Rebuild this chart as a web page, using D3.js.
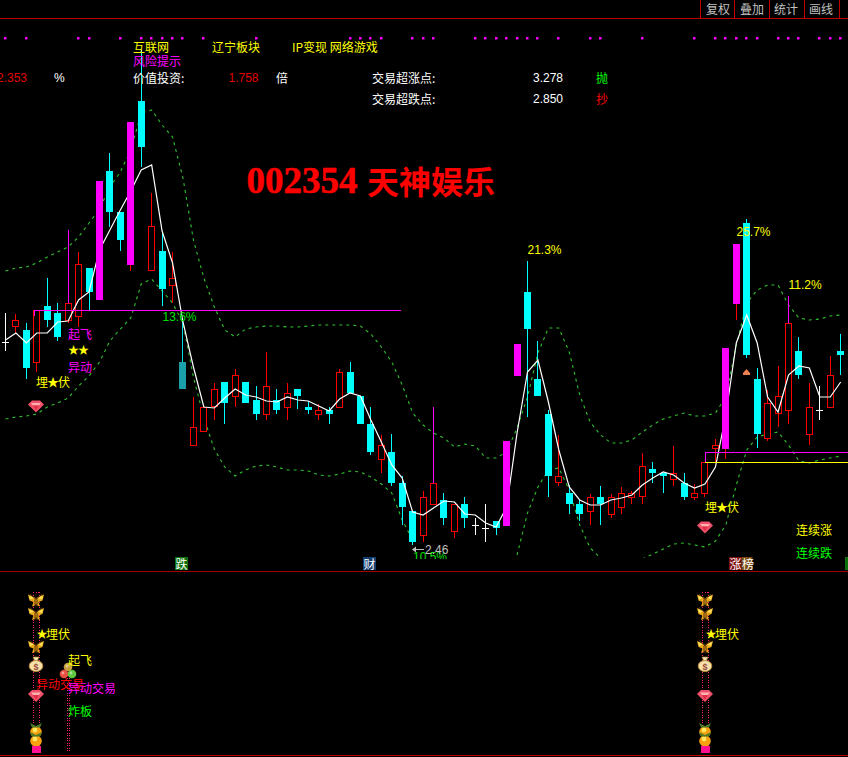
<!DOCTYPE html>
<html><head><meta charset="utf-8">
<script src="https://cdn.jsdelivr.net/npm/d3@7/dist/d3.min.js"></script>
<style>html,body{margin:0;padding:0;background:#000;overflow:hidden}svg{display:block}</style>
</head><body><div id="c"></div>
<script>
const opens=[2.866,2.896,2.890,2.824,2.938,2.924,2.908,2.916,3.014,2.950,3.208,3.126,3.020,3.348,3.008,3.048,2.978,2.826,2.658,2.686,2.736,2.786,2.756,2.786,2.750,2.720,2.750,2.734,2.772,2.736,2.720,2.730,2.734,2.806,2.758,2.702,2.630,2.646,2.584,2.528,2.478,2.540,2.550,2.486,2.542,2.500,2.494,2.508,2.498,2.798,2.966,2.792,2.722,2.584,2.564,2.542,2.526,2.556,2.520,2.534,2.554,2.556,2.612,2.604,2.590,2.584,2.554,2.562,2.652,2.652,2.942,3.104,2.792,2.672,2.722,2.728,2.848,2.680,2.730,2.734,2.848];
const closes=[2.866,2.910,2.814,2.930,2.910,2.876,2.944,3.022,2.966,3.188,3.126,3.070,3.306,3.256,3.098,2.972,2.994,2.772,2.696,2.736,2.772,2.744,2.800,2.744,2.722,2.778,2.730,2.764,2.758,2.730,2.730,2.722,2.806,2.764,2.702,2.646,2.660,2.584,2.536,2.466,2.556,2.584,2.514,2.542,2.514,2.500,2.494,2.494,2.668,2.862,2.892,2.758,2.598,2.598,2.542,2.522,2.556,2.542,2.556,2.564,2.564,2.618,2.604,2.598,2.604,2.556,2.564,2.626,2.660,2.854,3.062,2.840,2.682,2.744,2.758,2.904,2.800,2.736,2.730,2.800,2.840];
const highs=[2.924,2.922,2.904,2.930,2.994,2.944,3.090,3.046,3.014,3.188,3.244,3.126,3.306,3.450,3.164,3.084,3.046,2.910,2.756,2.736,2.784,2.786,2.812,2.786,2.778,2.846,2.772,2.784,2.772,2.748,2.742,2.736,2.812,2.826,2.758,2.736,2.680,2.682,2.598,2.528,2.568,2.736,2.564,2.542,2.556,2.514,2.542,2.508,2.668,2.862,3.028,2.868,2.730,2.680,2.580,2.550,2.562,2.578,2.562,2.576,2.568,2.644,2.626,2.604,2.658,2.604,2.582,2.626,2.672,2.854,3.062,3.112,2.814,2.770,2.818,2.958,2.876,2.784,2.778,2.838,2.882];
const lows=[2.848,2.884,2.792,2.806,2.896,2.868,2.904,2.896,2.930,2.950,3.096,3.048,3.008,3.216,3.008,2.938,2.944,2.772,2.658,2.686,2.710,2.702,2.736,2.744,2.710,2.710,2.722,2.710,2.732,2.722,2.710,2.702,2.734,2.764,2.702,2.640,2.604,2.578,2.500,2.460,2.466,2.540,2.500,2.474,2.494,2.480,2.466,2.480,2.498,2.798,2.716,2.758,2.556,2.578,2.522,2.508,2.500,2.500,2.514,2.522,2.542,2.542,2.584,2.564,2.578,2.550,2.550,2.556,2.626,2.632,2.910,2.834,2.654,2.668,2.696,2.702,2.792,2.660,2.710,2.734,2.800];
const maLine=[2.870,2.884,2.864,2.884,2.884,2.906,2.908,2.950,2.966,3.050,3.090,3.130,3.168,3.210,3.220,3.088,3.024,2.906,2.816,2.736,2.734,2.754,2.772,2.760,2.756,2.748,2.746,2.756,2.750,2.748,2.738,2.728,2.752,2.764,2.758,2.710,2.666,2.620,2.594,2.526,2.520,2.534,2.548,2.546,2.522,2.520,2.504,2.496,2.536,2.684,2.806,2.830,2.746,2.650,2.576,2.550,2.540,2.540,2.550,2.554,2.560,2.580,2.594,2.606,2.600,2.584,2.574,2.582,2.616,2.720,2.864,2.920,2.864,2.756,2.726,2.800,2.818,2.814,2.756,2.756,2.786];
const upperBand=[3.008,3.014,3.016,3.024,3.036,3.046,3.056,3.076,3.104,3.132,3.176,3.206,3.250,3.324,3.330,3.300,3.276,3.194,3.070,2.994,2.936,2.890,2.876,2.892,2.896,2.898,2.898,2.896,2.896,2.898,2.900,2.900,2.900,2.900,2.898,2.882,2.856,2.826,2.780,2.724,2.700,2.684,2.674,2.656,2.662,2.658,2.634,2.634,2.646,2.694,2.756,2.844,2.894,2.894,2.846,2.760,2.706,2.680,2.664,2.664,2.670,2.686,2.700,2.712,2.718,2.724,2.718,2.718,2.724,2.756,2.860,2.944,2.970,2.980,2.980,2.940,2.914,2.910,2.912,2.918,2.920];
const lowerBand=[2.712,2.716,2.718,2.722,2.736,2.744,2.754,2.778,2.798,2.826,2.868,2.892,2.914,2.982,2.992,2.968,2.944,2.904,2.796,2.714,2.652,2.616,2.598,2.610,2.618,2.620,2.616,2.610,2.610,2.608,2.600,2.598,2.602,2.608,2.606,2.596,2.582,2.564,2.510,2.470,null,null,null,null,null,null,null,null,null,2.440,2.524,2.576,2.610,2.614,2.570,2.500,2.454,2.434,null,null,null,2.432,2.442,2.452,2.462,2.464,2.460,2.456,2.468,2.500,2.580,2.650,2.676,2.682,2.686,2.660,2.628,2.624,2.630,2.634,2.638];
const limitBars=[9,12,48,49,69,70];
const tealBars=[17];
const magentaWick=[6,41,75];
const signalDots=[0,2,7,8,11,13,14,15,16,17,19,24,33,34,35,36,39,40,41,45,46,47,48,49,50,51,53,56,57,61,66,68,69,70,71,72,74,75,76,78,79,80];
const menuItems=["复权","叠加","统计","画线"];

const W=848,H=757;
const svg=d3.select("#c").append("svg").attr("width",W).attr("height",H);
svg.append("rect").attr("width",W).attr("height",H).attr("fill","#000");
svg.append("clipPath").attr("id","main").append("rect").attr("width",W).attr("height",558);
svg.append("clipPath").attr("id","pct").append("rect").attr("y",540).attr("width",W).attr("height",19);

const xs=d3.scalePoint().domain(d3.range(opens.length)).range([5.5,840.7]);
const X=i=>Math.floor(xs(i))+.5;
const y=d3.scaleLinear().domain([3.55,2.406]).range([0,572]);
const Y=v=>Math.round(y(v));

const CJK='"Noto Sans CJK SC",sans-serif', LAT='"Liberation Sans",sans-serif';
function T(x,yy,s,col,size=12,fam=CJK,extra){
  const dy=fam===CJK?-1:0;
  const t=svg.append("text").attr("x",x).attr("y",yy+dy).attr("fill",col).attr("font-size",size)
   .attr("font-family",fam).attr("dominant-baseline","central").text(s);
  if(extra)extra(t);return t;
}
const hl=(x1,x2,yy,c,g=svg)=>g.append("line").attr("x1",x1).attr("x2",x2).attr("y1",yy).attr("y2",yy).attr("stroke",c).attr("shape-rendering","crispEdges");
const vl=(xx,y1,y2,c,g=svg)=>g.append("line").attr("x1",xx).attr("x2",xx).attr("y1",y1).attr("y2",y2).attr("stroke",c).attr("shape-rendering","crispEdges");

// frame
hl(0,W,18.5,"#c00000");
hl(0,W,571.5,"#a00000");
hl(0,W,755.5,"#c00000");
[700.5,734.5,769.5,804.5,839.5].forEach(v=>vl(v,0,18,"#c00000"));
menuItems.forEach((m,i)=>T([706,740,774,809][i],9,m,"#c0c0c0"));

// signal dots
svg.append("g").selectAll("rect").data(signalDots).join("rect")
 .attr("x",d=>X(d)-1.5).attr("y",37).attr("width",2.5).attr("height",2.5).attr("fill","#ff00ff");

// bands
const main=svg.append("g").attr("clip-path","url(#main)");
const band=d3.line().defined(d=>d!=null).x((d,i)=>xs(i)).y(d=>y(d));
[upperBand,lowerBand].forEach(b=>main.append("path").datum(b).attr("d",band).attr("fill","none")
  .attr("stroke","#30c030").attr("stroke-width",1.1).attr("stroke-dasharray","3,4"));

// candles
function candle(g,i){
  const o=opens[i],c=closes[i],cx=X(i),top=Y(Math.max(o,c)),bot=Y(Math.min(o,c));
  const hy=Y(highs[i]),ly=Y(lows[i]);
  const lim=limitBars.includes(i),teal=tealBars.includes(i);
  if(o===c){
    vl(cx,hy,ly,"#fff",g);hl(cx-3.5,cx+3.5,top+.5,"#fff",g);return;
  }
  const up=c>o;
  const col=teal?"#19a0a8":up?"#ff0000":"#00ffff";
  vl(cx,hy,top,magentaWick.includes(i)?"#ff00ff":(teal?"#00e0e0":col),g);
  vl(cx,bot,ly,col,g);
  if(lim) g.append("rect").attr("x",cx-3.5).attr("y",top).attr("width",7).attr("height",bot-top).attr("fill","#ff00ff").attr("shape-rendering","crispEdges");
  else if(up) g.append("rect").attr("x",cx-3).attr("y",top+.5).attr("width",6).attr("height",bot-top-1).attr("fill","#000").attr("stroke","#ff0000").attr("shape-rendering","crispEdges");
  else g.append("rect").attr("x",cx-3.5).attr("y",top).attr("width",7).attr("height",bot-top).attr("fill",teal?"#19a0a8":"#00ffff").attr("shape-rendering","crispEdges");
}
const gBase=main.append("g");
d3.range(opens.length).filter(i=>!limitBars.includes(i)).forEach(i=>candle(gBase,i));
const ma=d3.line().x((d,i)=>xs(i)).y(d=>y(d));
main.append("path").datum(maLine).attr("d",ma).attr("fill","none").attr("stroke","#fff").attr("stroke-width",1.2);
const gLim=main.append("g");
limitBars.forEach(i=>candle(gLim,i));

// support lines
hl(34,401,310.5,"#ff00ff");
vl(34.5,310,316,"#ff00ff");
hl(705,W,452.5,"#ff00ff");
hl(705,W,462.5,"#ffff00");
vl(705.5,452,462,"#ff00ff");

// header text
T(133,47,"互联网","#ffff00");T(212,47,"辽宁板块","#ffff00");T(292,47,"IP变现 网络游戏","#ffff00");
T(133,61,"风险提示","#ff00ff");
T(-3,78,"2.353","#e00000",12,LAT);T(54,78,"%","#fff",12,LAT);
T(133,78,"价值投资:","#fff");T(228.5,78,"1.758","#e00000",12,LAT);T(276,78,"倍","#fff");
T(372,78,"交易超涨点:","#fff");T(533,78,"3.278","#fff",12,LAT);T(596,78,"抛","#00ff00");
T(372,99,"交易超跌点:","#fff");T(533,99,"2.850","#fff",12,LAT);T(596,99,"抄","#ff0000");
T(246.5,180,"002354","#ff0000",37,'"Liberation Serif",serif',t=>t.attr("font-weight",700).attr("stroke","#ff0000").attr("stroke-width",.5));
T(367,181,"天神娱乐","#ff0000",32,CJK,t=>t.attr("font-weight",700));

// percent labels
T(162.5,316.5,"13.6%","#00e000",12,LAT);
T(527.5,249.5,"21.3%","#ffff00",12,LAT);
T(736.5,231.5,"25.7%","#ffff00",12,LAT);
T(788.5,285,"11.2%","#ffff00",12,LAT);
svg.append("g").attr("clip-path","url(#pct)").append("text").attr("x",413).attr("y",557).attr("fill","#00e000")
 .attr("font-size",12).attr("font-family",LAT).text("10.5%").attr("dominant-baseline","central");
hl(413,424,549.5,"#c0c0c0");
svg.append("path").attr("d","M412,549.5l4,-3v6z").attr("fill","#c0c0c0");
T(425,550,"2.46","#c0c0c0",12,LAT);

// icons
function gem(cx,cy){
  const g=svg.append("g").attr("transform",`translate(${cx},${cy})`);
  g.append("path").attr("d","M-8,-2L-4,-6H4L8,-2L0,6Z").attr("fill","#f0506a");
  g.append("path").attr("d","M-5,-3.5H5L3,-1H-3Z").attr("fill","#ffb0b0");
  g.append("path").attr("d","M-3,-1H3L0,4Z").attr("fill","#e03048");
}
function fly(cx,cy){
  const g=svg.append("g").attr("transform",`translate(${cx},${cy})`);
  g.append("path").attr("d","M-8,-6L-1,-3L0,-1L1,-3L8,-6L6.5,0L2.5,1.5L4,6L1,5L0,3L-1,5L-4,6L-2.5,1.5L-6.5,0Z").attr("fill","#e8a818");
  g.append("path").attr("d","M-6,-6.5L0,-1L6,-6.5M-1,-1V6M1,-1V6").attr("fill","none").attr("stroke","#5a3008").attr("stroke-width",1);
  g.append("path").attr("d","M-7,-5L-2,-2.5L-6,-1ZM7,-5L2,-2.5L6,-1Z").attr("fill","#ffe060");
}
function bag(cx,cy){
  const g=svg.append("g").attr("transform",`translate(${cx},${cy})`);
  g.append("ellipse").attr("cy",2).attr("rx",6.8).attr("ry",5.5).attr("fill","#f7e2ae").attr("stroke","#b98a30");
  g.append("path").attr("d","M-3,-7H3L1.5,-3.5H-1.5Z").attr("fill","#f7e2ae").attr("stroke","#b98a30").attr("stroke-width",.6);
  g.append("text").attr("y",2.5).attr("text-anchor","middle").attr("dominant-baseline","central").attr("font-size",9).attr("font-weight",700)
   .attr("font-family",LAT).attr("fill","#9a4a3a").text("$");
}
function fruit(cx,cy){
  const g=svg.append("g").attr("transform",`translate(${cx},${cy})`);
  g.append("circle").attr("r",5.8).attr("fill","#f8a010");
  g.append("circle").attr("cx",-1).attr("cy",-2).attr("r",2.4).attr("fill","#ffe860");
  g.append("path").attr("d","M-6,-9L0,-6L6,-9L4,-4.5H-4Z").attr("fill","#4a7a28");
}
function ball(cx,cy,c){
  svg.append("circle").attr("cx",cx).attr("cy",cy).attr("r",4.3).attr("fill",c);
  svg.append("circle").attr("cx",cx-1).attr("cy",cy-1).attr("r",1.4).attr("fill","#fff").attr("opacity",.45);
}
function dotted(xx,y1,y2){vl(xx,y1,y2,"#ff2070").attr("stroke-dasharray","1,1.5");}

// signal annotations in main
T(68,334,"起飞","#ff00ff");
T(68,350,"★★","#ffff00",11,CJK,t=>t.style("letter-spacing","-1px"));
T(68,367,"异动","#ff00ff");
T(36,382,"埋★伏","#ffff00",12,CJK,t=>t.style("letter-spacing","-1px"));
gem(36,406.5);
T(705,507,"埋★伏","#ffff00",12,CJK,t=>t.style("letter-spacing","-1px"));
gem(705,527.5);
svg.append("path").attr("d","M746.5,369L750,373V375H743V373Z").attr("fill","#f08050");
T(796,530,"连续涨","#ffff00");
T(796,553,"连续跌","#00ff00");

// date tags
function tag(x,w,c,s){
  svg.append("rect").attr("x",x).attr("y",557).attr("width",w).attr("height",13).attr("fill",c);
  if(s)T(x+.5,564,s,"#fff");
}
tag(175,13,"#0a700a","跌");
tag(363,13,"#123e70","财");
tag(729,12.5,"#801010","涨");
tag(741.5,11,"#7a4a10","榜");
tag(845,3,"#0a700a");

// lower panel signal stacks
[36,705].forEach(cx=>{
  const l=cx-3,r=cx+3;
  dotted(Math.floor(l)+.5,592,746);dotted(Math.floor(r)+.5,592,746);
  hl(l,r,592.5,"#ff2070").attr("stroke-dasharray","1,1.5");
  fly(cx,600.5);fly(cx,614);fly(cx,647);
  T(cx+0.5,634,"★","#ffff00",11);
  T(cx+10,634,"埋伏","#ffff00");
  bag(cx,664);gem(cx,696);fruit(cx,732);fruit(cx,741);
  svg.append("rect").attr("x",cx-4).attr("y",746).attr("width",9).attr("height",7).attr("fill","#ff1090");
});
dotted(67.5,670,753);dotted(69.5,670,753);
ball(68,667,"#c8a040");ball(64,674,"#e85040");ball(72,674,"#60c840");
T(68,660,"起飞","#ffff00");
T(36,684,"异动交易","#ff0000");
T(68,688,"异动交易","#ff00ff");
T(68,711,"炸板","#00ff00");
</script></body></html>
